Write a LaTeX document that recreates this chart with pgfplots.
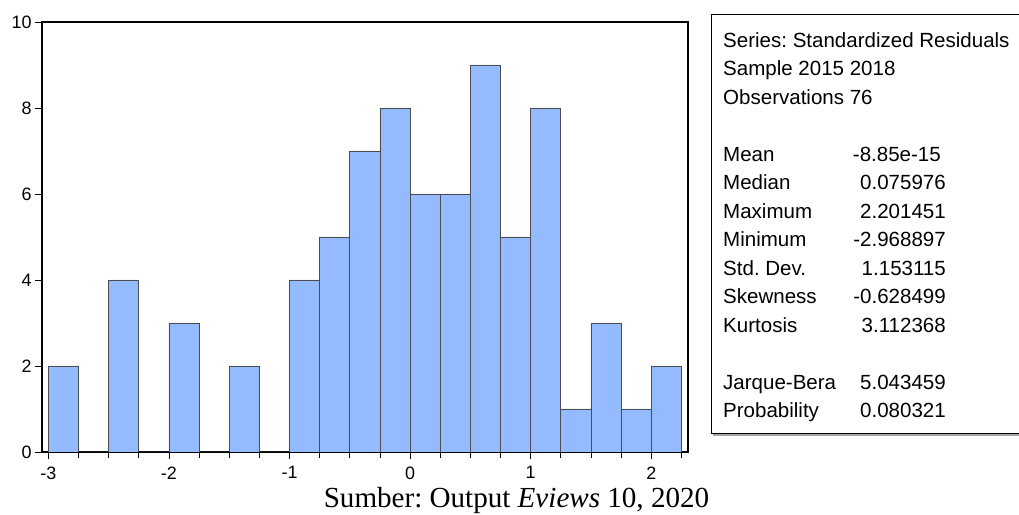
\documentclass[border=0pt]{standalone}
\usepackage{fontspec}
\setmainfont{Liberation Sans}
\newfontfamily\serif{Liberation Serif}
\usepackage{pgfplots}
\pgfplotsset{compat=1.18}
\definecolor{barblue}{RGB}{148,187,255}
\frenchspacing
\begin{document}
\frenchspacing
\begin{tikzpicture}[x=1bp,y=1bp]
\begin{axis}[
  at={(42bp,63bp)}, anchor=south west,
  scale only axis, width=646bp, height=430bp,
  xmin=-3.053, xmax=2.305, ymin=0, ymax=10,
  axis line style={line width=1.2bp},
  tick align=outside,
  xtick pos=bottom, ytick pos=left,
  xtick={-3,-2,-1,0,1,2},
  xticklabels={-3,-2,-1,0,1,2},
  minor xtick={-2.75,-2.5,-2.25,-1.75,-1.5,-1.25,-0.75,-0.5,-0.25,0.25,0.5,0.75,1.25,1.5,1.75,2.25},
  ytick={0,2,4,6,8,10},
  yticklabels={0,2,4,6,8,10},
  major tick length=7bp, minor tick length=6bp,
  tick style={black, line width=0.8bp},
  every tick label/.append style={font=\fontsize{18}{20}\selectfont},
  xticklabel style={yshift=-4bp},
]
\addplot[ybar interval, fill=barblue, draw=black!70, line width=0.8bp] coordinates {
(-3,2) (-2.75,0) (-2.5,4) (-2.25,0) (-2,3) (-1.75,0) (-1.5,2) (-1.25,0)
(-1,4) (-0.75,5) (-0.5,7) (-0.25,8) (0,6) (0.25,6) (0.5,9) (0.75,5)
(1,8) (1.25,1) (1.5,3) (1.75,1) (2,2) (2.25,0)};
\end{axis}
% stats box
\fill[gray!70] (713,79) rectangle (1030,82);
\draw[line width=1bp, fill=white] (711,81) rectangle (1030,500);
\begin{scope}[every node/.style={inner sep=0pt, font=\fontsize{20.6}{24}\selectfont}]
\node[anchor=base west] at (723,467.5) {Series: Standardized Residuals};
\node[anchor=base west] at (723,439) {Sample 2015 2018};
\node[anchor=base west] at (723,410.5) {Observations 76};
\node[anchor=base west] at (723,353.3) {Mean};
\node[anchor=base east] at (941,353.3) {-8.85e-15};
\foreach \lab/\val/\yy in {Median/0.075976/325, Maximum/2.201451/296.5, Minimum/-2.968897/268, Std. Dev./1.153115/239.5, Skewness/-0.628499/211, Kurtosis/3.112368/182.5, Jarque-Bera/5.043459/125.5, Probability/0.080321/97}{
  \node[anchor=base west] at (723,\yy) {\lab};
  \node[anchor=base east] at (946,\yy) {\val};
}
\end{scope}
\node[anchor=base, inner sep=0pt, font=\serif\fontsize{29.2}{32}\selectfont] at (516.5,7) {Sumber: Output \textit{Eviews} 10, 2020};
\pgfresetboundingbox
\path[use as bounding box] (0,0) rectangle (1019,515);
\end{tikzpicture}
\end{document}
